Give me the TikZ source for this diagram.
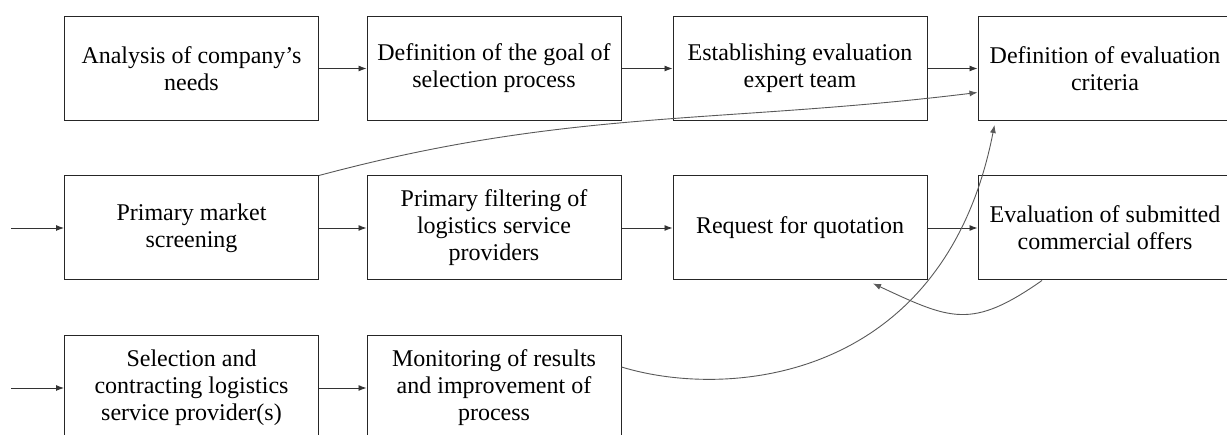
\documentclass[tikz,border=0pt]{standalone}
\usepackage{fontspec}
\setmainfont{Liberation Serif}
\usetikzlibrary{arrows.meta}

\begin{document}
\begin{tikzpicture}[x=1pt, y=-1pt,
  stepbox/.style={draw=black!85, line width=1pt, fill=white,
    minimum width=254pt, minimum height=104pt, inner sep=0pt,
    align=center, font=\fontsize{24}{27}\selectfont},
  flow/.style={draw=black!80, line width=0.9pt,
    -{Latex[length=8pt,width=6pt]}},
  loopline/.style={draw=black!65, line width=0.9pt,
    -{Latex[length=8pt,width=6pt]}}]

  \useasboundingbox (0,0) rectangle (1227,435);
  \clip (0,0) rectangle (1227,435);

  % first row
  \node[stepbox] (b1) at (191.5,68.5) {Analysis of company’s\\needs};
  \node[stepbox] (b2) at (494,68.5) {Definition of the goal of\\selection process};
  \node[stepbox] (b3) at (800,68.5) {Establishing evaluation\\expert team};
  \node[stepbox] (b4) at (1105,68.5) {Definition of evaluation\\criteria};

  % second row
  \node[stepbox] (b5) at (191.5,228) {Primary market\\screening};
  \node[stepbox] (b6) at (494,228) {Primary filtering of\\logistics service\\providers};
  \node[stepbox] (b7) at (800,228) {Request for quotation};
  \node[stepbox] (b8) at (1105,228) {Evaluation of submitted\\commercial offers};

  % third row
  \node[stepbox] (b9) at (191.5,388) {Selection and\\contracting logistics\\service provider(s)};
  \node[stepbox] (b10) at (494,388) {Monitoring of results\\and improvement of\\process};

  % incoming lines on the left
  \coordinate (in5) at (11,228);
  \coordinate (in9) at (11,388);
  \draw[flow] (in5) -- (b5.west);
  \draw[flow] (in9) -- (b9.west);

  % straight flow arrows
  \draw[flow] (b1) -- (b2);
  \draw[flow] (b2) -- (b3);
  \draw[flow] (b3) -- (b4);
  \draw[flow] (b5) -- (b6);
  \draw[flow] (b6) -- (b7);
  \draw[flow] (b7) -- (b8);
  \draw[flow] (b9) -- (b10);

  % curved feedback connectors
  \draw[loopline] (b5.north east) to[out=15, in=187] ([yshift=-24pt]b4.west);
  \draw[loopline] ([xshift=-63pt]b8.south) to[out=215, in=-25, looseness=1.3]
    ([xshift=73pt, yshift=-3pt]b7.south);
  \draw[loopline] ([yshift=21pt]b10.east) .. controls +(108,33) and +(-50,256) ..
    ([xshift=17pt, yshift=-4pt]b4.south west);
\end{tikzpicture}
\end{document}
